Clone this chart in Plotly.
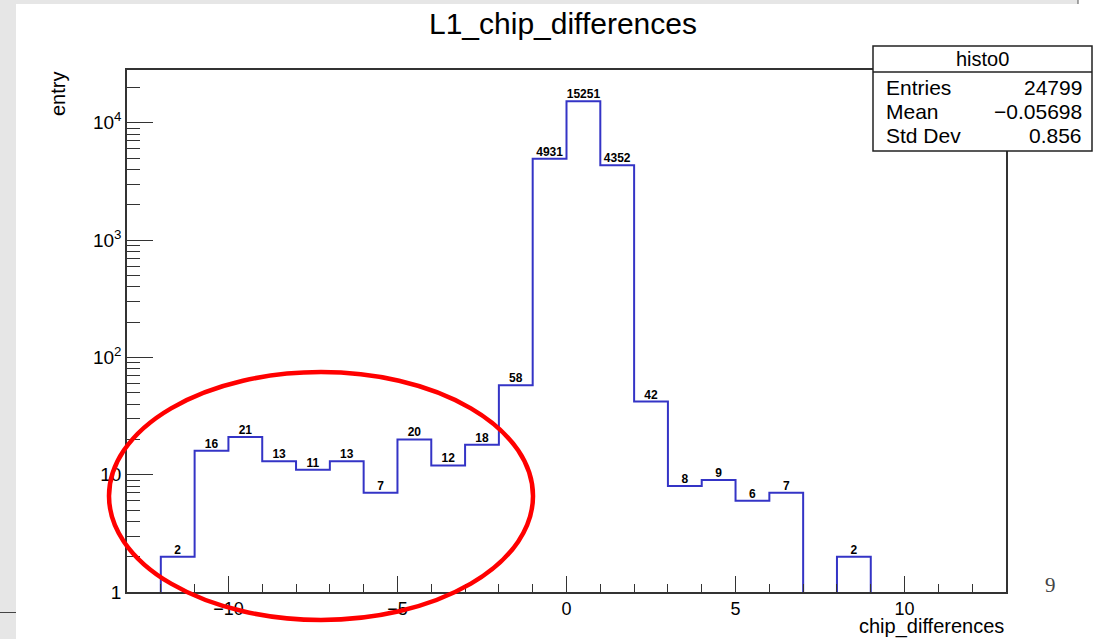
import plotly.graph_objects as go

# ---------------- data ----------------
bin_low = [-13, -12, -11, -10, -9, -8, -7, -6, -5, -4, -3, -2, -1,
           0, 1, 2, 3, 4, 5, 6, 7, 8, 9, 10, 11, 12]
counts = [0, 2, 16, 21, 13, 11, 13, 7, 20, 12, 18, 58, 4931,
          15251, 4352, 42, 8, 9, 6, 7, 0, 2, 0, 0, 0, 0]
bin_width = 1
y_tick_vals = [1, 10, 100, 1000, 10000]
y_tick_text = ["1", "10", "10<sup>2</sup>", "10<sup>3</sup>", "10<sup>4</sup>"]
stats_names = ["Entries", "Mean", "Std Dev"]
stats_values = ["24799", "\u22120.05698", "0.856"]
title = "L1_chip_differences"
hist_name = "histo0"

# ---------------- geometry helpers ----------------
W, H = 1099, 639
L, R, T, B = 127, 1006, 70, 592


def px(x):
    return (x - L) / (R - L)


def py(y):
    return (B - y) / (B - T)


ymin = 1  # bottom of log axis

# step outline built from the bin data
xs, ys = [], []
run_open = False
for i, (lo, c) in enumerate(zip(bin_low, counts)):
    hi = lo + bin_width
    if c > 0:
        if not run_open:
            xs += [lo, lo]
            ys += [ymin, c]
            run_open = True
        else:
            xs += [lo]
            ys += [c]
        xs += [hi]
        ys += [c]
    else:
        if run_open:
            xs += [xs[-1], None]
            ys += [ymin, None]
            run_open = False
if run_open:
    xs += [xs[-1]]
    ys += [ymin]

blue = "#3434c6"
fig = go.Figure()
fig.add_trace(go.Scatter(x=xs, y=ys, mode="lines",
                         line=dict(color=blue, width=2),
                         hoverinfo="skip", showlegend=False, cliponaxis=False))

lab_x = [lo + bin_width / 2 for lo, c in zip(bin_low, counts) if c > 0]
lab_y = [c for c in counts if c > 0]
fig.add_trace(go.Scatter(x=lab_x, y=lab_y, mode="text",
                         text=[str(v) for v in lab_y],
                         textposition="top center",
                         textfont=dict(family="Liberation Sans, Arial", size=12,
                                       color="black", weight="bold"),
                         showlegend=False, hoverinfo="skip", cliponaxis=False))

font_main = "Liberation Sans, Arial, Helvetica"

fig.update_layout(
    width=W, height=H,
    margin=dict(l=L, r=W - R, t=T, b=H - B),
    paper_bgcolor="white", plot_bgcolor="white",
    font=dict(family=font_main, color="black", size=19),
    xaxis=dict(range=[-13, 13], showgrid=False, zeroline=False,
               showline=True, linecolor="#333", linewidth=1.5, mirror=True,
               ticks="inside", ticklen=16, tickwidth=1.3, tickcolor="#333",
               tick0=0, dtick=5, tickfont=dict(size=18),
               minor=dict(ticks="inside", ticklen=8, tickwidth=1.3,
                          tickcolor="#333", dtick=1, tick0=0, showgrid=False)),
    yaxis=dict(type="log", range=[0, 4.45], showgrid=False, zeroline=False,
               showline=True, linecolor="#333", linewidth=1.5, mirror=True,
               ticks="inside", ticklen=26, tickwidth=1.3, tickcolor="#333",
               tickmode="array", tickvals=y_tick_vals, ticktext=y_tick_text,
               tickfont=dict(size=19),
               minor=dict(ticks="inside", ticklen=13, tickwidth=1.3,
                          tickcolor="#333", showgrid=False,
                          tickvals=[m * 10 ** k for k in range(0, 5)
                                    for m in range(2, 10)])),
)

shapes = []
# slide background bands
shapes.append(dict(type="rect", xref="paper", yref="paper",
                   x0=px(0), x1=px(16), y0=py(H), y1=py(0),
                   fillcolor="#e6e6e6", line=dict(width=0), layer="below"))
shapes.append(dict(type="rect", xref="paper", yref="paper",
                   x0=px(0), x1=px(1078), y0=py(4), y1=py(0),
                   fillcolor="#e6e6e6", line=dict(width=0), layer="below"))
shapes.append(dict(type="line", xref="paper", yref="paper",
                   x0=px(1078), x1=px(1078), y0=py(4), y1=py(0),
                   line=dict(color="#555", width=1)))
shapes.append(dict(type="line", xref="paper", yref="paper",
                   x0=px(0), x1=px(16), y0=py(612.5), y1=py(612.5),
                   line=dict(color="#444", width=1)))
# stats box
shapes.append(dict(type="rect", xref="paper", yref="paper",
                   x0=px(873), x1=px(1092), y0=py(151), y1=py(46),
                   fillcolor="white", line=dict(color="#222", width=1.5),
                   layer="above"))
shapes.append(dict(type="line", xref="paper", yref="paper",
                   x0=px(873), x1=px(1092), y0=py(72), y1=py(72),
                   line=dict(color="#222", width=1.5), layer="above"))
# red ellipse
shapes.append(dict(type="circle", xref="paper", yref="paper",
                   x0=px(109), x1=px(533), y0=py(620), y1=py(372),
                   line=dict(color="#ff0000", width=4.5), layer="above"))
fig.update_layout(shapes=shapes)

ann = []
ann.append(dict(text=title, xref="paper", yref="paper", x=px(563), y=py(24),
                xanchor="center", yanchor="middle", showarrow=False,
                font=dict(size=30, family=font_main)))
ann.append(dict(text="entry", xref="paper", yref="paper", x=px(58), y=py(70),
                xanchor="center", yanchor="top", textangle=-90, showarrow=False,
                font=dict(size=20, family=font_main)))
ann.append(dict(text="chip_differences", xref="paper", yref="paper",
                x=px(1006), y=py(626), xanchor="right", yanchor="middle",
                showarrow=False, font=dict(size=20, family=font_main)))
ann.append(dict(text=hist_name, xref="paper", yref="paper", x=px(982), y=py(59),
                xanchor="center", yanchor="middle", showarrow=False,
                font=dict(size=20, family=font_main)))
row_y = [87, 111, 135]
for name, val, ry in zip(stats_names, stats_values, row_y):
    ann.append(dict(text=name, xref="paper", yref="paper", x=px(884), y=py(ry),
                    xanchor="left", yanchor="middle", showarrow=False,
                    font=dict(size=21, family=font_main)))
    ann.append(dict(text=val, xref="paper", yref="paper", x=px(1084), y=py(ry),
                    xanchor="right", yanchor="middle", showarrow=False,
                    font=dict(size=21, family=font_main)))
ann.append(dict(text="9", xref="paper", yref="paper", x=px(1050), y=py(585),
                xanchor="center", yanchor="middle", showarrow=False,
                font=dict(size=21, family="Liberation Serif, DejaVu Serif",
                          color="#444")))
fig.update_layout(annotations=ann)

fig.write_html("out.html")
